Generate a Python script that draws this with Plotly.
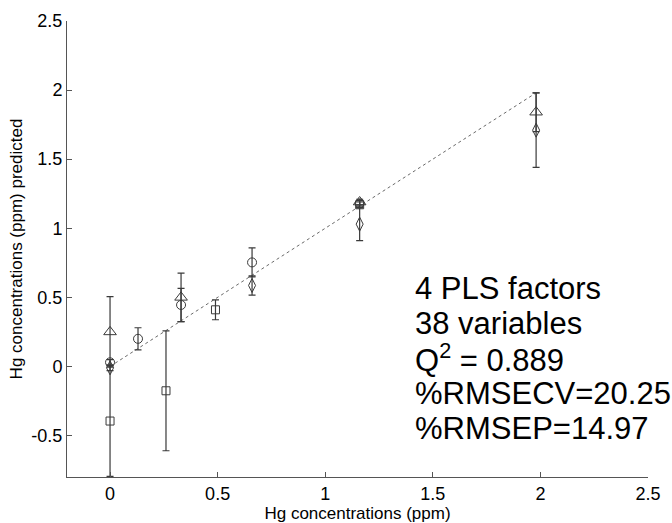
import plotly.graph_objects as go

# Reference (ideal) line
ref_x = [0, 1.98]
ref_y = [0, 1.98]

# Series: triangle
tri_x = [0, 0.33, 1.16, 1.98]
tri_y = [0.25, 0.50, 1.19, 1.84]
tri_e = [0.255, 0.175, 0.02, 0.14]

# Series: circle
cir_x = [0, 0.13, 0.33, 0.66, 1.16]
cir_y = [0.03, 0.20, 0.445, 0.753, 1.18]
cir_e = [0.02, 0.08, 0.12, 0.105, 0.02]

# Series: diamond
dia_x = [0, 0.66, 1.16, 1.98]
dia_y = [-0.01, 0.586, 1.03, 1.71]
dia_e = [0.02, 0.07, 0.12, 0.27]

# Series: square
sq_x = [0, 0.26, 0.49, 1.16]
sq_y = [-0.395, -0.176, 0.41, 1.17]
sq_e = [0.40, 0.434, 0.072, 0.02]

x_ticks = [0, 0.5, 1, 1.5, 2, 2.5]
x_ticktext = ["0", "0.5", "1", "1.5", "2", "2.5"]
y_ticks = [-0.5, 0, 0.5, 1, 1.5, 2, 2.5]
y_ticktext = ["-0.5", "0", "0.5", "1", "1.5", "2", "2.5"]

stats_lines = ["4 PLS factors", "38 variables", "Q<sup>2</sup> = 0.889",
               "%RMSECV=20.25", "%RMSEP=14.97"]

FONT = "Liberation Sans, Arial, sans-serif"
INK = "#3a3a3a"

fig = go.Figure()
fig.add_trace(go.Scatter(x=ref_x, y=ref_y, mode="lines",
                         line=dict(color="#6a6a6a", width=1, dash="dot"),
                         showlegend=False, hoverinfo="skip"))

for xs, ys, es, sym, sz in [(tri_x, tri_y, tri_e, "triangle-up-open", 11),
                            (cir_x, cir_y, cir_e, "circle-open", 9),
                            (dia_x, dia_y, dia_e, "diamond-tall-open", 10),
                            (sq_x, sq_y, sq_e, "square-open", 8)]:
    fig.add_trace(go.Scatter(
        x=xs, y=ys, mode="markers",
        marker=dict(symbol=sym, size=sz, color=INK, line=dict(width=1, color=INK)),
        error_y=dict(type="data", array=es, visible=True, color=INK,
                     thickness=1.2, width=3.5),
        showlegend=False))

y0 = 0.566
dy = 0.254
for i, t in enumerate(stats_lines):
    fig.add_annotation(x=1.406, y=y0 - i * dy, xref="x", yref="y", text=t,
                       showarrow=False, xanchor="left", yanchor="middle",
                       font=dict(family=FONT, size=31, color="#000000"))

axis_common = dict(showgrid=False, zeroline=False, showline=True,
                   linecolor="#555555", linewidth=1, ticks="inside",
                   ticklen=5, tickcolor="#555555", mirror=False,
                   automargin=False,
                   tickfont=dict(family=FONT, size=18, color="#000000"))

fig.update_xaxes(range=[-0.2, 2.5], tickvals=x_ticks, ticktext=x_ticktext,
                 title=dict(text="Hg concentrations (ppm)",
                            font=dict(family=FONT, size=17, color="#000000"),
                            standoff=0),
                 **axis_common)
fig.update_yaxes(range=[-0.8, 2.5], tickvals=y_ticks, ticktext=y_ticktext,
                 title=dict(text="Hg concentrations (ppm) predicted",
                            font=dict(family=FONT, size=17, color="#000000"),
                            standoff=4),
                 **axis_common)

fig.update_layout(width=672, height=523,
                  margin=dict(l=67, r=24, t=21, b=46),
                  plot_bgcolor="white", paper_bgcolor="white")

fig.write_html("out.html",
               config={"displayModeBar": False},
               post_script="document.body.style.margin='0';"
                           "document.body.style.overflow='hidden';")
